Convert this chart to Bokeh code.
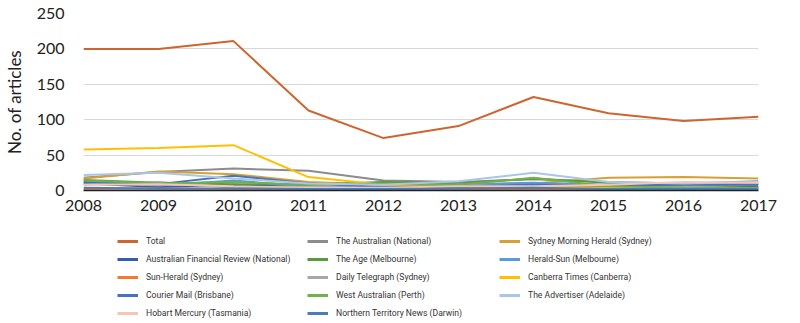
from bokeh.plotting import figure
from bokeh.models import Legend, LegendItem
from bokeh.layouts import column
from bokeh.embed import file_html
from bokeh.resources import INLINE

years = [2008, 2009, 2010, 2011, 2012, 2013, 2014, 2015, 2016, 2017]

total = [200, 200, 211, 113, 74, 91, 132, 109, 98, 104]
the_australian = [18, 26, 31, 28, 14, 12, 16, 12, 10, 9]
smh = [17, 27, 23, 12, 8, 8, 10, 18, 19, 17]
afr = [10, 5, 8, 5, 3, 4, 6, 4, 6, 5]
the_age = [15, 11, 9, 8, 12, 10, 17, 11, 6, 4]
herald_sun = [12, 7, 14, 6, 4, 9, 11, 8, 10, 13]
sun_herald = [2, 3, 2, 1, 1, 1, 2, 1, 1, 2]
daily_telegraph = [8, 12, 4, 5, 3, 8, 6, 5, 6, 8]
canberra_times = [58, 60, 64, 19, 8, 6, 5, 4, 3, 3]
courier_mail = [12, 9, 21, 10, 5, 6, 8, 7, 8, 8]
west_australian = [14, 10, 12, 8, 10, 8, 18, 6, 4, 3]
advertiser = [22, 25, 17, 10, 8, 13, 25, 12, 10, 12]
hobart_mercury = [8, 9, 6, 4, 4, 6, 6, 8, 12, 11]
nt_news = [4, 3, 3, 2, 2, 3, 4, 2, 2, 2]

series_names = [
    "Total", "The Australian (National)", "Sydney Morning Herald (Sydney)",
    "Australian Financial Review (National)", "The Age (Melbourne)", "Herald-Sun (Melbourne)",
    "Sun-Herald (Sydney)", "Daily Telegraph (Sydney)", "Canberra Times (Canberra)",
    "Courier Mail (Brisbane)", "West Australian (Perth)", "The Advertiser (Adelaide)",
    "Hobart Mercury (Tasmania)", "Northern Territory News (Darwin)",
]
series_values = [
    total, the_australian, smh, afr, the_age, herald_sun, sun_herald,
    daily_telegraph, canberra_times, courier_mail, west_australian, advertiser,
    hobart_mercury, nt_news,
]
series_colors = [
    "#CE652E", "#8C8C8C", "#D6A035", "#3A5BAA", "#5A9A3C", "#5B9BD5", "#F07A30",
    "#A8A8A8", "#FFC000", "#4472C4", "#72B04A", "#A9C6E8", "#F8C6B0", "#4A7EBB",
]
y_ticks = [0, 50, 100, 150, 200, 250]

FONT = "Lato"

p = figure(width=800, height=220, output_backend="svg", toolbar_location=None,
           x_range=(2008, 2017), y_range=(0, 250),
           min_border_left=83, min_border_right=42, min_border_top=13, min_border_bottom=30)
p.outline_line_color = None
p.background_fill_color = "white"
p.border_fill_color = "white"

renderers = []
for name, vals, col in zip(series_names, series_values, series_colors):
    r = p.line(years, vals, line_color=col, line_width=2)
    renderers.append(r)

# draw Total on top
p.renderers.remove(renderers[0])
p.renderers.append(renderers[0])

p.xgrid.grid_line_color = None
p.ygrid.grid_line_color = "#D9D9D9"
p.ygrid.grid_line_width = 1
p.ygrid.ticker = y_ticks

p.xaxis.ticker = years
p.yaxis.ticker = y_ticks
p.xaxis.axis_line_color = "#222222"
p.xaxis.axis_line_width = 1.5
p.yaxis.axis_line_color = None
for ax in (p.xaxis, p.yaxis):
    ax.major_tick_line_color = None
    ax.minor_tick_line_color = None
    ax.major_label_text_font = FONT
    ax.major_label_text_font_size = "16px"
    ax.major_label_text_color = "#222222"
p.xaxis.major_label_standoff = 3
p.yaxis.major_label_standoff = 13
p.yaxis.axis_label = "No. of articles"
p.yaxis.axis_label_text_font = FONT
p.yaxis.axis_label_text_font_size = "17px"
p.yaxis.axis_label_text_font_style = "normal"
p.yaxis.axis_label_text_color = "#222222"
p.yaxis.axis_label_text_line_height = 0.9
p.yaxis.axis_label_standoff = 9

# legend panel (proxy lines use the same data but lie outside this panel's ranges)
LEG_H = 103
q = figure(width=800, height=LEG_H, output_backend="svg", toolbar_location=None,
           x_range=(0, 1), y_range=(0, 1), min_border=0,
           x_axis_location=None, y_axis_location=None)
q.outline_line_color = None
q.grid.visible = False
proxies = [q.line(years, vals, line_color=c, line_width=3)
           for vals, c in zip(series_values, series_colors)]

# legend positions are relative to the (aligned) plot frame's left edge
cols = [[0, 3, 6, 9, 12], [1, 4, 7, 10, 13], [2, 5, 8, 11]]
xs = [34, 224, 416]
ROW = 18
for idxs, vx in zip(cols, xs):
    items = [LegendItem(label=series_names[i], renderers=[proxies[i]]) for i in idxs]
    nrows = len(idxs)
    leg = Legend(items=items, location=(vx, LEG_H - 12 - ROW * nrows), orientation="vertical",
                 padding=0, margin=0, spacing=0, glyph_width=21, glyph_height=ROW,
                 label_height=ROW, label_standoff=8,
                 label_text_font="Roboto", label_text_font_size="8.6px",
                 label_text_color="#333333", border_line_color=None,
                 background_fill_alpha=0)
    q.add_layout(leg, "center")

layout = column(p, q, spacing=0)
open("out.html", "w").write(file_html(layout, INLINE))
